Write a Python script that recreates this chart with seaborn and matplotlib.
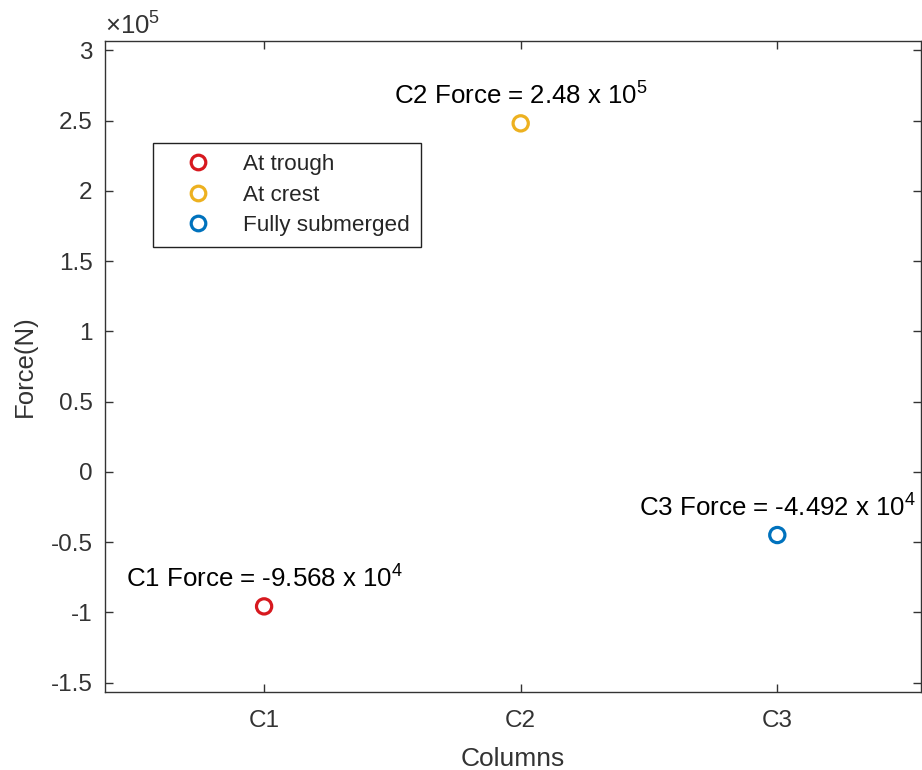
import numpy as np
import pandas as pd
import matplotlib
matplotlib.use("Agg")
import matplotlib.pyplot as plt
from matplotlib.lines import Line2D
from matplotlib.ticker import FuncFormatter, FixedLocator
import seaborn as sns

# Net force on each column
columns = ["C1", "C2", "C3"]
forces = [-9.568e4, 2.48e5, -4.492e4]
conditions = ["At trough", "At crest", "Fully submerged"]
colors = ["#D7191F", "#EDB120", "#0072BD"]
y_ticks = [-1.5e5, -1e5, -0.5e5, 0, 0.5e5, 1e5, 1.5e5, 2e5, 2.5e5, 3e5]
y_scale_exp = 5

sns.set_theme(style="white")
plt.rcParams["font.family"] = ["Liberation Sans", "DejaVu Sans"]
plt.rcParams["mathtext.default"] = "regular"

axis_color = "#333333"

df = pd.DataFrame({"Columns": columns, "Force": forces, "Condition": conditions})

fig = plt.figure(figsize=(9.22, 7.70), dpi=100)
ax = fig.add_axes([105 / 922, 78 / 770, 816 / 922, 651 / 770])

sns.scatterplot(data=df, x="Columns", y="Force", hue="Condition",
                palette=dict(zip(conditions, colors)), s=120, marker="o",
                linewidth=2.3, legend=False, ax=ax, zorder=3)
coll = ax.collections[0]
fc = coll.get_facecolors()
coll.set_edgecolors(fc)
coll.set_facecolors("none")

ax.set_xlim(-0.62, 2.56)
ax.set_ylim(-1.566e5, 3.066e5)
ax.yaxis.set_major_locator(FixedLocator(y_ticks))
ax.yaxis.set_major_formatter(FuncFormatter(lambda v, p: f"{v / 10**y_scale_exp:g}"))

for sp in ax.spines.values():
    sp.set_visible(True)
    sp.set_color(axis_color)
    sp.set_linewidth(1.0)
ax.tick_params(direction="in", length=6, width=1.0, color=axis_color,
               labelcolor=axis_color, labelsize=17.5, top=True, right=True,
               left=True, bottom=True)
ax.tick_params(axis="y", pad=9)
ax.tick_params(axis="x", pad=13)

ax.set_xlabel("Columns", fontsize=19, color=axis_color, labelpad=11)
ax.set_ylabel("Force(N)", fontsize=18.5, color=axis_color, labelpad=10)

# Axis multiplier
ax.text(0.0, 1 + 6 / 651, r"$\times 10^{%d}$" % y_scale_exp, transform=ax.transAxes,
        ha="left", va="baseline", fontsize=18.5, color=axis_color)

# Value annotations above each point
for col, f in zip(columns, forces):
    exp = int(np.floor(np.log10(abs(f))))
    mant = f / 10**exp
    label = f"{col} Force = {mant:.4g} x $10^{{{exp}}}$"
    ax.annotate(label, xy=(col, f), xytext=(0, 13.3), textcoords="offset points",
                ha="center", va="baseline", fontsize=18.6, color="black")

handles = [Line2D([], [], linestyle="none", marker="o", markersize=10.5,
                  markerfacecolor="none", markeredgecolor=c, markeredgewidth=2.3)
           for c in colors]
leg = ax.legend(handles, conditions, loc="upper left",
                bbox_to_anchor=((153 - 105) / 816, (692 - 143) / 651),
                borderaxespad=0, fontsize=16.2, frameon=True, fancybox=False,
                framealpha=1, edgecolor="#222222", borderpad=0.5,
                handlelength=3.0, handletextpad=0.5, labelspacing=0.42)
leg.get_frame().set_linewidth(1.0)

fig.savefig("out.png", dpi=100)
